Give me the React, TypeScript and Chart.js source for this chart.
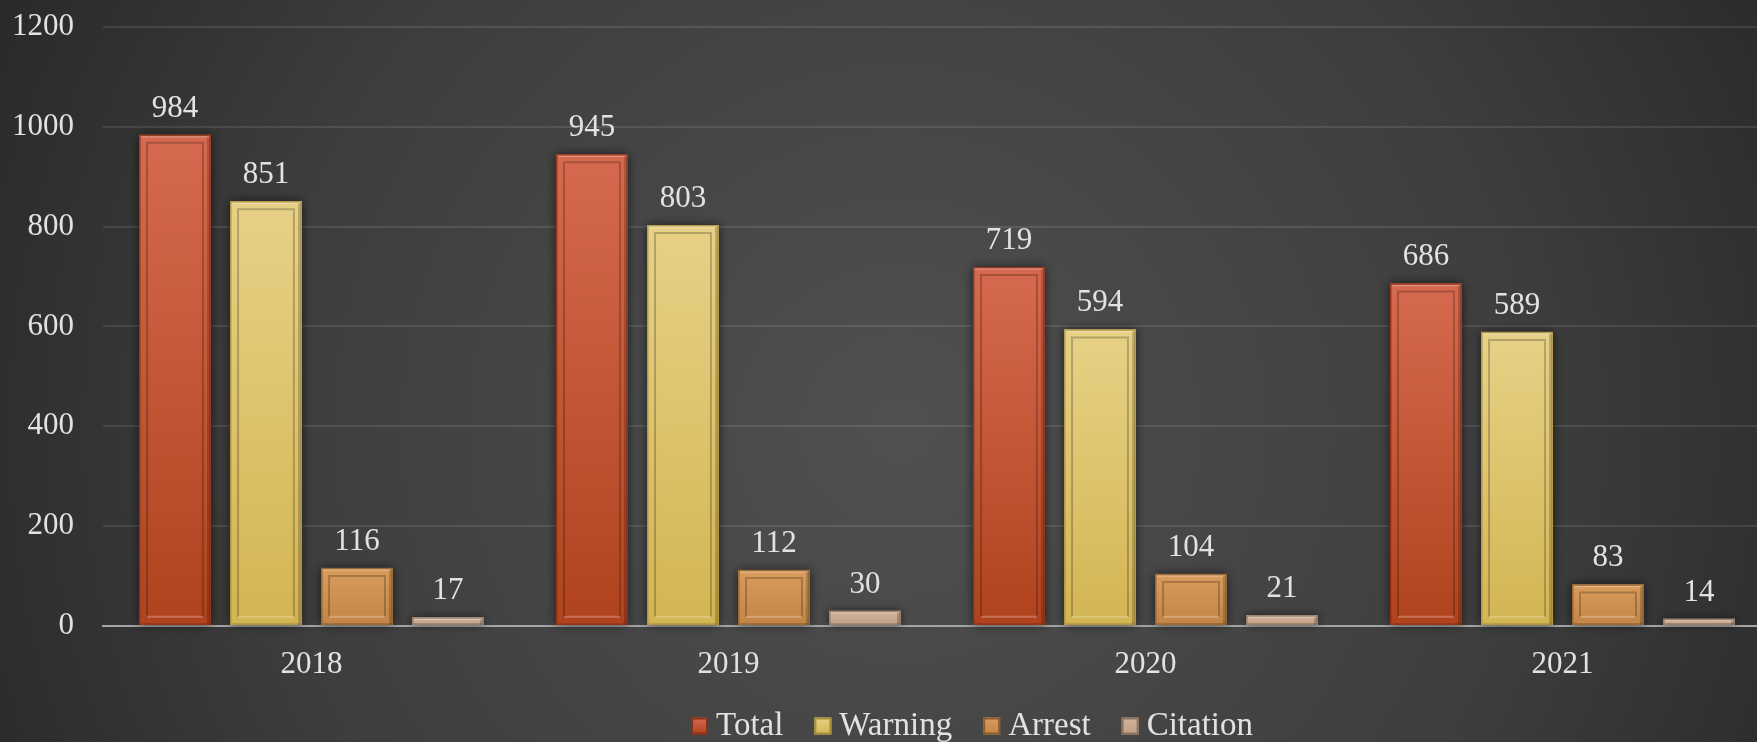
import React, { useEffect, useRef } from 'react';
import { Chart, registerables } from 'chart.js';

Chart.register(...registerables);

const categories = ['2018', '2019', '2020', '2021'];
const seriesNames = ['Total', 'Warning', 'Arrest', 'Citation'];
const totalValues = [984, 945, 719, 686];
const warningValues = [851, 803, 594, 589];
const arrestValues = [116, 112, 104, 83];
const citationValues = [17, 30, 21, 14];
const yMin = 0;
const yMax = 1200;
const yStep = 200;

const topColors = ['#d66a50', '#e6d186', '#d99c5c', '#d3b49d'];
const bottomColors = ['#b0431d', '#d4b553', '#c28545', '#bf9f86'];
const baseColors = ['#c4532f', '#dec46f', '#cc9152', '#c9aa92'];
const edgeColors = ['#8a3016', '#a98f3c', '#8c5e2c', '#8a735f'];

const FONT = '"Liberation Serif", "Times New Roman", serif';
const TEXT = '#e2e2e2';

const bgPlugin = {
  id: 'bg',
  beforeDraw(chart: any) {
    const { ctx, width, height } = chart;
    ctx.save();
    const g = ctx.createRadialGradient(900, 430, 0, 900, 430, 1150);
    g.addColorStop(0, '#505050');
    g.addColorStop(0.55, '#3d3d3d');
    g.addColorStop(1, '#212121');
    ctx.fillStyle = g;
    ctx.fillRect(0, 0, width, height);
    ctx.restore();
  },
};

const barPlugin = {
  id: 'bevelBars',
  afterDatasetsDraw(chart: any) {
    const ctx = chart.ctx;
    chart.data.datasets.forEach((ds: any, i: number) => {
      const meta = chart.getDatasetMeta(i);
      meta.data.forEach((bar: any, j: number) => {
        const { x, y, base, width } = bar.getProps(['x', 'y', 'base', 'width'], true);
        const left = x - width / 2;
        const top = Math.min(y, base);
        const bottom = Math.max(y, base);
        const h = bottom - top;
        ctx.save();
        ctx.shadowColor = 'rgba(0,0,0,0.6)';
        ctx.shadowBlur = 10;
        const g = ctx.createLinearGradient(0, top, 0, bottom);
        g.addColorStop(0, topColors[i]);
        g.addColorStop(1, bottomColors[i]);
        ctx.fillStyle = g;
        ctx.fillRect(left, top, width, h);
        ctx.restore();

        ctx.save();
        ctx.strokeStyle = edgeColors[i];
        ctx.globalAlpha = 0.8;
        ctx.lineWidth = 1.5;
        ctx.strokeRect(left + 0.75, top + 0.75, width - 1.5, h - 1.5);
        ctx.globalAlpha = 1;
        ctx.strokeStyle = 'rgba(255,255,255,0.28)';
        ctx.lineWidth = 1.5;
        ctx.beginPath();
        ctx.moveTo(left + 2, top + 2);
        ctx.lineTo(left + width - 2, top + 2);
        ctx.stroke();
        ctx.strokeStyle = 'rgba(0,0,0,0.18)';
        ctx.lineWidth = 3;
        ctx.beginPath();
        ctx.moveTo(left + width - 2.5, top + 2);
        ctx.lineTo(left + width - 2.5, bottom);
        ctx.stroke();

        const inset = 8;
        if (h > inset * 2 + 6) {
          const il = left + inset;
          const ir = left + width - inset;
          const it = top + inset;
          const ib = bottom - inset;
          ctx.lineWidth = 2;
          ctx.strokeStyle = 'rgba(0,0,0,0.22)';
          ctx.beginPath();
          ctx.moveTo(il, ib);
          ctx.lineTo(il, it);
          ctx.lineTo(ir, it);
          ctx.lineTo(ir, ib);
          ctx.stroke();
          ctx.strokeStyle = 'rgba(255,255,255,0.25)';
          ctx.beginPath();
          ctx.moveTo(il, ib);
          ctx.lineTo(ir, ib);
          ctx.stroke();
        }
        ctx.restore();

        ctx.save();
        ctx.font = `31px ${FONT}`;
        ctx.fillStyle = TEXT;
        ctx.textAlign = 'center';
        ctx.textBaseline = 'alphabetic';
        ctx.fillText(String(ds.data[j]), x, top - 18);
        ctx.restore();
      });
    });
  },
};

const legendPlugin = {
  id: 'customLegend',
  afterDraw(chart: any) {
    const ctx = chart.ctx;
    ctx.save();
    ctx.font = `33px ${FONT}`;
    const boxW = 17;
    const boxH = 17;
    const gap = 8;
    const spacing = 31;
    const widths = seriesNames.map((n) => boxW + gap + ctx.measureText(n).width);
    const total = widths.reduce((a, b) => a + b, 0) + spacing * (seriesNames.length - 1);
    let xPos = 972 - total / 2;
    const baseline = 735;
    seriesNames.forEach((n, i) => {
      const bt = baseline - 17.5;
      const g = ctx.createLinearGradient(0, bt, 0, bt + boxH);
      g.addColorStop(0, topColors[i]);
      g.addColorStop(1, bottomColors[i]);
      ctx.fillStyle = g;
      ctx.fillRect(xPos, bt, boxW, boxH);
      ctx.strokeStyle = edgeColors[i];
      ctx.lineWidth = 2;
      ctx.strokeRect(xPos + 1, bt + 1, boxW - 2, boxH - 2);
      ctx.fillStyle = TEXT;
      ctx.textAlign = 'left';
      ctx.textBaseline = 'alphabetic';
      ctx.fillText(n, xPos + boxW + gap, baseline);
      xPos += widths[i] + spacing;
    });
    ctx.restore();
  },
};

export default function App() {
  const ref = useRef<HTMLCanvasElement | null>(null);
  useEffect(() => {
    document.body.style.margin = '0';
    document.body.style.overflow = 'hidden';
    document.documentElement.style.overflow = 'hidden';
    if (!ref.current) return;
    const seriesValues = [totalValues, warningValues, arrestValues, citationValues];
    const chart = new Chart(ref.current, {
      type: 'bar',
      data: {
        labels: categories,
        datasets: seriesNames.map((name, i) => ({
          label: name,
          data: seriesValues[i],
          backgroundColor: baseColors[i],
          borderWidth: 0,
          categoryPercentage: 0.873,
          barPercentage: 0.79,
        })),
      },
      options: {
        responsive: false,
        animation: false,
        devicePixelRatio: 1,
        layout: { padding: { left: 12, right: 49, top: 27, bottom: 39 } },
        plugins: {
          legend: { display: false },
          tooltip: { enabled: false },
        },
        scales: {
          x: {
            afterFit: (scale: any) => {
              scale.paddingLeft = 0;
              scale.paddingRight = 0;
            },
            grid: { display: false, drawTicks: false },
            border: { display: true, color: '#a5a5a5', width: 2 },
            ticks: { color: TEXT, font: { family: FONT, size: 31 }, padding: 20 },
          },
          y: {
            min: yMin,
            max: yMax,
            afterFit: (scale: any) => {
              scale.paddingTop = 0;
              scale.paddingBottom = 0;
              scale.width = 91;
            },
            ticks: {
              stepSize: yStep,
              color: TEXT,
              font: { family: FONT, size: 31 },
              padding: 29,
              callback: (v: any) => String(v),
            },
            grid: {
              drawTicks: false,
              color: (c: any) => (c.tick && c.tick.value === 0 ? 'rgba(0,0,0,0)' : 'rgba(255,255,255,0.1)'),
              lineWidth: 2,
            },
            border: { display: false },
          },
        },
      },
      plugins: [bgPlugin, barPlugin, legendPlugin],
    });
    return () => chart.destroy();
  }, []);
  return (
    <div style={{ width: 1820, height: 742, overflow: 'hidden' }}>
      <canvas ref={ref} width={1820} height={742} style={{ display: 'block' }} />
    </div>
  );
}
